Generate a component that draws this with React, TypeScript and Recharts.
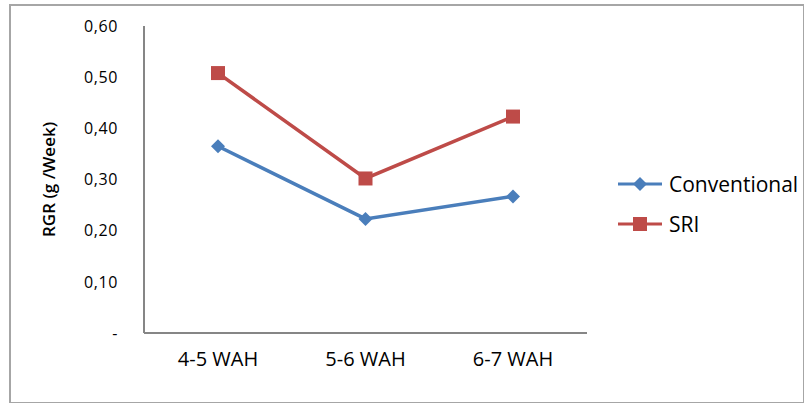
import React from 'react';
import {LineChart, Line, XAxis, YAxis} from 'recharts';

const periods = ['4-5 WAH', '5-6 WAH', '6-7 WAH'];
const conventional = [0.365, 0.223, 0.267];
const sri = [0.508, 0.302, 0.423];
const yTicks = [0, 0.1, 0.2, 0.3, 0.4, 0.5, 0.6];

const data = periods.map((name, i) => ({name, Conventional: conventional[i], SRI: sri[i]}));

const BLUE = '#4a7ebb';
const RED = '#be4b48';
const FONT = '"Open Sans", "Noto Sans", sans-serif';

const fmt = (v: number) => (v === 0 ? '-' : v.toFixed(2).replace('.', ','));

const Diamond = (props: any) => {
    const {cx, cy} = props;
    if (cx == null || cy == null) return null;
    return <path d={`M${cx},${cy - 7}L${cx + 7},${cy}L${cx},${cy + 7}L${cx - 7},${cy}Z`} fill={BLUE}/>;
};

const Square = (props: any) => {
    const {cx, cy} = props;
    if (cx == null || cy == null) return null;
    return <rect x={cx - 7} y={cy - 7} width={14} height={14} fill={RED}/>;
};

const LegendBox = () => (
    <div style={{position: 'absolute', left: 618, top: 170, fontFamily: FONT, fontSize: 21, color: '#000', lineHeight: '28px'}}>
        <div style={{display: 'flex', alignItems: 'center', height: 28}}>
            <svg width={46} height={16}>
                <line x1={0} y1={8} x2={44} y2={8} stroke={BLUE} strokeWidth={3}/>
                <path d="M22,1L29,8L22,15L15,8Z" fill={BLUE}/>
            </svg>
            <span style={{marginLeft: 5}}>Conventional</span>
        </div>
        <div style={{display: 'flex', alignItems: 'center', height: 28, marginTop: 12}}>
            <svg width={46} height={16}>
                <line x1={0} y1={8} x2={44} y2={8} stroke={RED} strokeWidth={3}/>
                <rect x={15} y={1} width={14} height={14} fill={RED}/>
            </svg>
            <span style={{marginLeft: 5}}>SRI</span>
        </div>
    </div>
);

export default function App() {
    return (
        <div style={{position: 'absolute', left: 0, top: 0, width: 804, height: 403, background: '#fff'}}>
            <div style={{position: 'absolute', left: 9, top: 4, width: 792, height: 396, border: '2px solid #a6a6a6'}}/>
            <div style={{position: 'absolute', left: 0, top: 0}}>
                <LineChart width={804} height={403} data={data}
                           margin={{top: 26, right: 217, bottom: 30, left: 0}}>
                    <XAxis dataKey="name" height={40} padding={{left: 74, right: 74}}
                           axisLine={{stroke: '#868686', strokeWidth: 2}} tickLine={false} tickSize={0} tickMargin={19}
                           tick={{fill: '#000', fontSize: 20, fontFamily: FONT}}/>
                    <YAxis width={144} domain={[0, 0.6]} ticks={yTicks} tickFormatter={fmt}
                           axisLine={{stroke: '#868686', strokeWidth: 2}} tickLine={false} tickSize={0} tickMargin={26}
                           tick={{fill: '#000', fontSize: 16, fontFamily: FONT, letterSpacing: 0.6}}
                           label={{value: 'RGR (g /Week)', angle: -90, position: 'insideLeft', offset: 49,
                               style: {textAnchor: 'middle', fontSize: 17, fontWeight: 600, fontFamily: FONT, fill: '#000'}}}/>
                    <Line type="linear" dataKey="Conventional" stroke={BLUE} strokeWidth={3.5}
                          dot={<Diamond/>} activeDot={false} isAnimationActive={false}/>
                    <Line type="linear" dataKey="SRI" stroke={RED} strokeWidth={3.5}
                          dot={<Square/>} activeDot={false} isAnimationActive={false}/>
                </LineChart>
            </div>
            <LegendBox/>
        </div>
    );
}
